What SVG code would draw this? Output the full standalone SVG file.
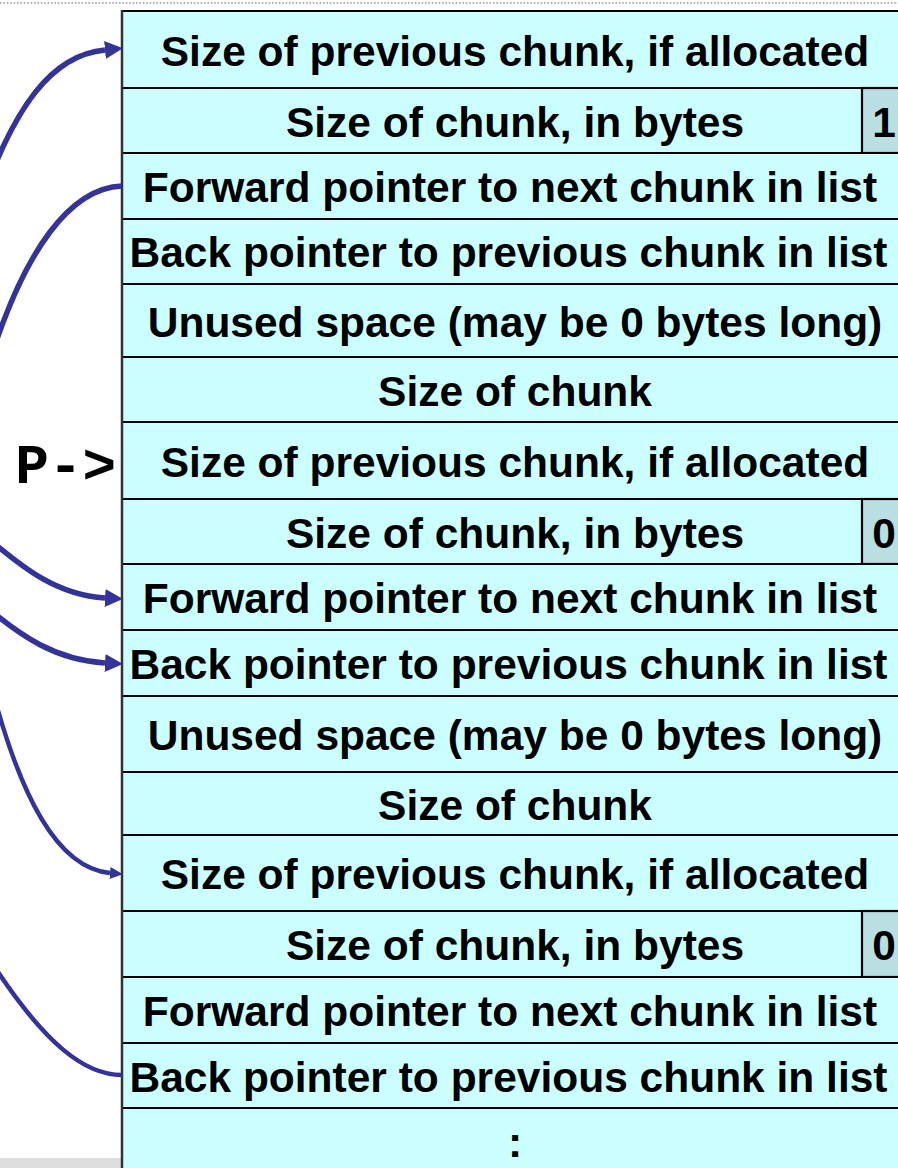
<svg xmlns="http://www.w3.org/2000/svg" width="898" height="1168" viewBox="0 0 898 1168">
<defs>
<style>
.cell{fill:#ccffff;stroke:none}
.flag{fill:#b9dfe2;stroke:#000;stroke-width:2.2}
.sep{stroke:#000;stroke-width:2.2}
.t{font-family:"Liberation Sans",Arial,sans-serif;font-weight:bold;font-size:42.5px;fill:#000;text-anchor:middle}
.p{font-family:"Liberation Mono","Courier New",monospace;font-weight:bold;font-size:56px;fill:#000;text-anchor:end}
.c{fill:none;stroke:#333399;stroke-width:5.5}
.cs{fill:none;stroke:#333399;stroke-width:4.5}
</style>
<marker id="ah" markerUnits="userSpaceOnUse" markerWidth="18" markerHeight="18" viewBox="0 0 17 17" refX="0" refY="8.5" orient="auto">
<path d="M0,0 L17,8.5 L0,17 Z" fill="#333399"/>
</marker>
<marker id="ahs" markerUnits="userSpaceOnUse" markerWidth="13" markerHeight="12" viewBox="0 0 12 11" refX="0" refY="5.5" orient="auto">
<path d="M0,0 L12,5.5 L0,11 Z" fill="#333399"/>
</marker>
</defs>
<rect width="898" height="1168" fill="#ffffff"/>
<line x1="0" y1="3" x2="898" y2="3" stroke="#999" stroke-width="1.6" stroke-dasharray="1.6 1.8"/>
<rect x="0" y="1158" width="121" height="10" fill="#dddddd"/>

<g id="row1"><rect class="cell" x="122" y="11" width="790" height="77"/><text class="t" x="515" y="65.5">Size of previous chunk, if allocated</text></g>
<g id="row2"><rect class="cell" x="122" y="88" width="790" height="65"/><rect class="flag" x="862" y="88" width="50" height="65"/><text class="t" x="515" y="136.5">Size of chunk, in bytes</text><text class="t" x="884" y="136.5">1</text></g>
<g id="row3"><rect class="cell" x="122" y="153" width="790" height="66"/><text class="t" x="510" y="202">Forward pointer to next chunk in list</text></g>
<g id="row4"><rect class="cell" x="122" y="219" width="790" height="65"/><text class="t" x="508.5" y="267">Back pointer to previous chunk in list</text></g>
<g id="row5"><rect class="cell" x="122" y="284" width="790" height="73"/><text class="t" x="515" y="336.5">Unused space (may be 0 bytes long)</text></g>
<g id="row6"><rect class="cell" x="122" y="357" width="790" height="65"/><text class="t" x="515" y="405.5">Size of chunk</text></g>
<g id="row7"><rect class="cell" x="122" y="422" width="790" height="77"/><text class="t" x="515" y="476.5">Size of previous chunk, if allocated</text></g>
<g id="row8"><rect class="cell" x="122" y="499" width="790" height="65"/><rect class="flag" x="862" y="499" width="50" height="65"/><text class="t" x="515" y="547.5">Size of chunk, in bytes</text><text class="t" x="884" y="547.5">0</text></g>
<g id="row9"><rect class="cell" x="122" y="564" width="790" height="66"/><text class="t" x="510" y="613">Forward pointer to next chunk in list</text></g>
<g id="row10"><rect class="cell" x="122" y="630" width="790" height="66"/><text class="t" x="508.5" y="679">Back pointer to previous chunk in list</text></g>
<g id="row11"><rect class="cell" x="122" y="696" width="790" height="76"/><text class="t" x="515" y="750">Unused space (may be 0 bytes long)</text></g>
<g id="row12"><rect class="cell" x="122" y="772" width="790" height="63"/><text class="t" x="515" y="819.5">Size of chunk</text></g>
<g id="row13"><rect class="cell" x="122" y="835" width="790" height="76"/><text class="t" x="515" y="889">Size of previous chunk, if allocated</text></g>
<g id="row14"><rect class="cell" x="122" y="911" width="790" height="66"/><rect class="flag" x="862" y="911" width="50" height="66"/><text class="t" x="515" y="960">Size of chunk, in bytes</text><text class="t" x="884" y="960">0</text></g>
<g id="row15"><rect class="cell" x="122" y="977" width="790" height="66"/><text class="t" x="510" y="1026">Forward pointer to next chunk in list</text></g>
<g id="row16"><rect class="cell" x="122" y="1043" width="790" height="65"/><text class="t" x="508.5" y="1091.5">Back pointer to previous chunk in list</text></g>
<g id="row17"><rect class="cell" x="122" y="1108" width="790" height="70"/><text class="t" x="515" y="1157">:</text></g>

<g id="separators">
<line class="sep" x1="121" y1="11" x2="912" y2="11" stroke-width="3"/>
<line class="sep" x1="121" y1="88" x2="912" y2="88"/>
<line class="sep" x1="121" y1="153" x2="912" y2="153"/>
<line class="sep" x1="121" y1="219" x2="912" y2="219"/>
<line class="sep" x1="121" y1="284" x2="912" y2="284"/>
<line class="sep" x1="121" y1="357" x2="912" y2="357"/>
<line class="sep" x1="121" y1="422" x2="912" y2="422"/>
<line class="sep" x1="121" y1="499" x2="912" y2="499"/>
<line class="sep" x1="121" y1="564" x2="912" y2="564"/>
<line class="sep" x1="121" y1="630" x2="912" y2="630"/>
<line class="sep" x1="121" y1="696" x2="912" y2="696"/>
<line class="sep" x1="121" y1="772" x2="912" y2="772"/>
<line class="sep" x1="121" y1="835" x2="912" y2="835"/>
<line class="sep" x1="121" y1="911" x2="912" y2="911"/>
<line class="sep" x1="121" y1="977" x2="912" y2="977"/>
<line class="sep" x1="121" y1="1043" x2="912" y2="1043"/>
<line class="sep" x1="121" y1="1108" x2="912" y2="1108"/>
<line x1="122" y1="10" x2="122" y2="1168" stroke="#333" stroke-width="2.5"/>
</g>

<g id="pointer-label"><text class="p" x="116" y="483">P-&gt;</text></g>

<g id="connectors">
<path class="c" d="M-15,190 C15,110 50,55 105,50" marker-end="url(#ah)"/>
<path class="c" d="M122,186 C70,188 25,250 -10,360"/>
<path class="c" d="M-10,540 C20,565 55,595 105,598" marker-end="url(#ah)"/>
<path class="c" d="M-10,610 C20,635 55,660 105,663" marker-end="url(#ah)"/>
<path class="cs" d="M-5,700 C20,790 55,868 110,873" marker-end="url(#ahs)"/>
<path class="cs" d="M122,1075 C85,1075 45,1045 -10,960"/>
</g>
</svg>
